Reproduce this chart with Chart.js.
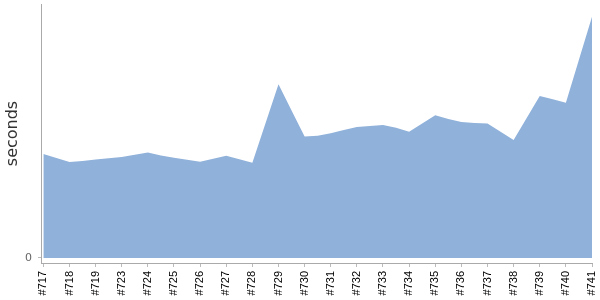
<!DOCTYPE html>
<html>
<head>
<meta charset="utf-8">
<script src="https://cdn.jsdelivr.net/npm/chart.js@4/dist/chart.umd.min.js"></script>
<style>
html,body{margin:0;padding:0;background:#fff;}
#wrap{width:600px;height:300px;position:relative;}
</style>
</head>
<body>
<div id="wrap"><canvas id="c"></canvas></div>
<script>
// Every other point carries a visible label
const categories = ["#717","","#718","","#719","","#723","","#724","","#725","","#726","","#727","","#728","","#729","","#730","","#731","","#732","","#733","","#734","","#735","","#736","","#737","","#738","","#739","","#740","","#741"];
const seconds = [40.9,39.4,37.8,38.2,38.8,39.3,39.8,40.6,41.5,40.4,39.5,38.7,37.9,39.1,40.3,38.9,37.5,53.0,68.4,58.1,47.8,48.1,49.1,50.4,51.6,52.0,52.4,51.3,49.7,53.0,56.2,54.7,53.5,53.1,53.0,49.7,46.5,55.1,63.8,62.5,61.1,78.1,95.0];
const yTicks = [0];

const points = seconds.map((v, i) => ({x: i, y: v}));

new Chart(document.getElementById('c'), {
  type: 'line',
  data: {
    datasets: [{
      label: 'seconds',
      data: points,
      fill: 'origin',
      backgroundColor: 'rgb(143,177,218)',
      borderWidth: 0,
      borderColor: 'rgba(0,0,0,0)',
      pointRadius: 0,
      tension: 0
    }]
  },
  options: {
    responsive: true,
    maintainAspectRatio: false,
    animation: false,
    layout: {padding: {top: 4, right: 8, bottom: 0, left: 3}},
    plugins: {legend: {display: false}, tooltip: {enabled: false}},
    scales: {
      x: {
        type: 'linear',
        min: -0.18,
        max: categories.length - 1,
        afterBuildTicks: (axis) => {
          axis.ticks = categories.map((c, i) => ({value: i})).filter(t => categories[t.value] !== "");
        },
        afterFit: (s) => { s.paddingLeft = 0; s.paddingRight = 0; s.height = 37; },
        ticks: {
          autoSkip: false,
          minRotation: 90,
          maxRotation: 90,
          padding: 4,
          color: '#000',
          font: {family: 'Liberation Sans', size: 11},
          callback: (v) => categories[v]
        },
        grid: {drawOnChartArea: false, drawTicks: true, tickLength: 4, color: '#bbb'},
        border: {color: '#aaa', width: 1}
      },
      y: {
        min: -1.97,
        max: 100,
        afterBuildTicks: (axis) => { axis.ticks = yTicks.map(v => ({value: v})); },
        afterFit: (s) => { s.paddingTop = 0; s.paddingBottom = 0; s.width = 38; },
        ticks: {
          color: '#666',
          padding: 6,
          font: {family: 'DejaVu Sans', size: 11}
        },
        grid: {drawOnChartArea: false, drawTicks: true, tickLength: 3, color: '#bbb'},
        border: {color: '#aaa', width: 1},
        title: {
          display: true,
          text: 'seconds',
          color: '#333',
          padding: 0,
          font: {family: 'DejaVu Sans', size: 16}
        }
      }
    }
  }
});
</script>
</body>
</html>
